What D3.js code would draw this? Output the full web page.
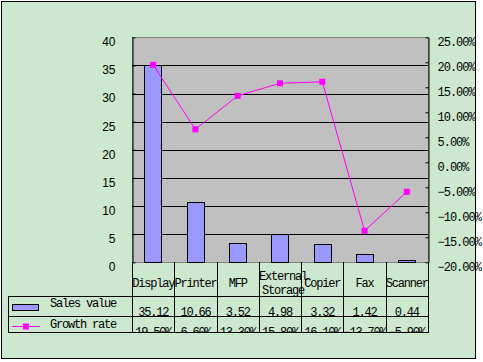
<!DOCTYPE html>
<html>
<head>
<meta charset="utf-8">
<script src="https://cdnjs.cloudflare.com/ajax/libs/d3/7.8.5/d3.min.js"></script>
<style>
    body { margin: 0; background: #fff; }
    svg { display: block; }
    .mono { font-family: "Liberation Mono", "DejaVu Sans Mono", monospace; font-size: 12px; }
</style>
</head>
<body>
<div id="chart"></div>
<script>
// chart data
let categories = ["Display", "Printer", "MFP", "External Storage", "Copier", "Fax", "Scanner"];
let salesValues = [35.12, 10.66, 3.52, 4.98, 3.32, 1.42, 0.44];
let growthRates = [0.195, 0.066, 0.133, 0.158, 0.161, -0.137, -0.059];
let salesTicks = [0, 5, 10, 15, 20, 25, 30, 35, 40];
let rateTicks = [-0.20, -0.15, -0.10, -0.05, 0, 0.05, 0.10, 0.15, 0.20, 0.25];
let seriesNames = ["Sales value", "Growth rate"];

let W = 483, H = 362;
let plot = {left: 132, right: 428, top: 37.3, bottom: 262.3};
let rowY = {cat: 262.3, sales: 296, growth: 315.7, end: 332.3};
let tableLeft = 8;

let svg = d3.select("#chart").append("svg")
    .attr("width", W)
    .attr("height", H);

// chart area
svg.append("rect")
    .attr("x", 1.5).attr("y", 1.5)
    .attr("width", 474).attr("height", 357)
    .attr("fill", "#CCE8CF")
    .attr("stroke", "#000");

let x = d3.scaleBand()
    .domain(categories)
    .range([plot.left, plot.right]);

let yLeft = d3.scaleLinear()
    .domain([0, 40])
    .range([plot.bottom, plot.top]);

let yRight = d3.scaleLinear()
    .domain([-0.20, 0.25])
    .range([plot.bottom, plot.top]);

// plot background
svg.append("rect")
    .attr("x", plot.left).attr("y", plot.top)
    .attr("width", plot.right - plot.left).attr("height", plot.bottom - plot.top)
    .attr("fill", "#C0C0C0")
    .attr("stroke", "#808080")
    .attr("shape-rendering", "crispEdges");

// gridlines
svg.append("g")
    .selectAll("line")
    .data(salesTicks.filter(d => d > 0 && d < 40))
    .join("line")
    .attr("x1", plot.left).attr("x2", plot.right)
    .attr("y1", d => Math.round(yLeft(d)) + 0.5)
    .attr("y2", d => Math.round(yLeft(d)) + 0.5)
    .attr("stroke", "#000");

// bars
let barW = x.bandwidth() * 0.41;
svg.append("g")
    .selectAll("rect")
    .data(salesValues)
    .join("rect")
    .attr("x", (d, i) => Math.round(x(categories[i]) + (x.bandwidth() - barW) / 2) + 0.5)
    .attr("y", d => Math.round(yLeft(d)) + 0.5)
    .attr("width", Math.round(barW))
    .attr("height", d => Math.max(0, Math.round(yLeft(0)) - Math.round(yLeft(d))))
    .attr("fill", "#9999FF")
    .attr("stroke", "#000");

// left axis
let leftAxis = svg.append("g")
    .attr("transform", `translate(${plot.left + 0.5},0)`)
    .call(d3.axisLeft(yLeft).tickValues(salesTicks).tickSizeInner(-3).tickSizeOuter(0).tickPadding(17));
leftAxis.select(".domain").attr("stroke", "#000");
leftAxis.selectAll(".tick line").attr("stroke", "#000");
leftAxis.selectAll("text")
    .attr("dy", "0.32em")
    .attr("y", 4.5)
    .style("font-family", "'Liberation Sans', Arial, sans-serif")
    .style("font-size", "12px")
    .attr("fill", "#000");

// right axis
let rightAxis = svg.append("g")
    .attr("transform", `translate(${plot.right + 0.5},0)`)
    .call(d3.axisRight(yRight).tickValues(rateTicks).tickFormat(d3.format(".2%")).tickSizeInner(-3).tickSizeOuter(0).tickPadding(9));
rightAxis.select(".domain").attr("stroke", "#000");
rightAxis.selectAll(".tick line").attr("stroke", "#000");
rightAxis.selectAll("text")
    .attr("class", "mono")
    .attr("y", 4.5)
    .style("letter-spacing", "-1px")
    .attr("fill", "#000");

// growth line
let line = d3.line()
    .x((d, i) => x(categories[i]) + x.bandwidth() / 2)
    .y(d => yRight(d));

svg.append("path")
    .datum(growthRates)
    .attr("d", line)
    .attr("fill", "none")
    .attr("stroke", "#FF00FF")
    .attr("stroke-width", 1);

svg.append("g")
    .selectAll("rect")
    .data(growthRates)
    .join("rect")
    .attr("x", (d, i) => x(categories[i]) + x.bandwidth() / 2 - 3)
    .attr("y", d => yRight(d) - 3)
    .attr("width", 6).attr("height", 6)
    .attr("fill", "#FF00FF");

// data table
let table = svg.append("g")
    .attr("stroke", "#000")
    .attr("shape-rendering", "crispEdges");

[rowY.sales, rowY.growth, rowY.end].forEach(y => {
    table.append("line")
        .attr("x1", tableLeft).attr("x2", plot.right)
        .attr("y1", Math.round(y) + 0.5).attr("y2", Math.round(y) + 0.5);
});

let bounds = categories.map(c => x(c)).concat([plot.right]);
table.selectAll(".vline")
    .data(bounds)
    .join("line")
    .attr("class", "vline")
    .attr("x1", d => Math.round(d) + 0.5).attr("x2", d => Math.round(d) + 0.5)
    .attr("y1", rowY.cat).attr("y2", Math.round(rowY.end) + 0.5);

table.append("line")
    .attr("x1", tableLeft + 0.5).attr("x2", tableLeft + 0.5)
    .attr("y1", Math.round(rowY.sales) + 0.5).attr("y2", Math.round(rowY.end) + 0.5);

// category labels
let catText = svg.append("g").attr("class", "mono")
    .selectAll("text")
    .data(categories)
    .join("text")
    .attr("x", d => x(d) + x.bandwidth() / 2)
    .attr("y", 287)
    .attr("text-anchor", "middle")
    .style("letter-spacing", "-1.2px")
    .attr("fill", "#000");

catText.each(function(d) {
    let words = d.split(" ");
    let el = d3.select(this);
    if (words.length > 1) {
        words.forEach((w, j) => {
            el.append("tspan")
                .attr("x", x(d) + x.bandwidth() / 2 + 3)
                .attr("y", 279.5 + j * 14.5)
                .text(w);
        });
    } else {
        el.text(d);
    }
});

// clip for the table values (bottom row gets cut off)
svg.append("clipPath")
    .attr("id", "tableClip")
    .append("rect")
    .attr("x", 0).attr("y", 0)
    .attr("width", W).attr("height", Math.round(rowY.end) + 1);

let values = svg.append("g").attr("class", "mono").attr("clip-path", "url(#tableClip)");

values.selectAll(".sales")
    .data(salesValues)
    .join("text")
    .attr("class", "sales")
    .attr("x", (d, i) => x(categories[i]) + x.bandwidth() / 2)
    .attr("y", 315.5)
    .attr("text-anchor", "middle")
    .style("letter-spacing", "-1.2px")
    .text(d => d3.format(".2f")(d));

values.selectAll(".growth")
    .data(growthRates)
    .join("text")
    .attr("class", "growth")
    .attr("x", (d, i) => x(categories[i]) + x.bandwidth() / 2)
    .attr("y", 335.5)
    .attr("text-anchor", "middle")
    .style("letter-spacing", "-1.2px")
    .text(d => d3.format(".2%")(d));

// legend keys
let legend = svg.append("g");
legend.append("rect")
    .attr("x", 12.5).attr("y", 304.5)
    .attr("width", 26).attr("height", 6)
    .attr("fill", "#9999FF")
    .attr("stroke", "#000");
legend.append("line")
    .attr("x1", 12).attr("x2", 40)
    .attr("y1", 326.5).attr("y2", 326.5)
    .attr("stroke", "#FF00FF");
legend.append("rect")
    .attr("x", 23).attr("y", 323.5)
    .attr("width", 6).attr("height", 6)
    .attr("fill", "#FF00FF");

legend.selectAll("text")
    .data(seriesNames)
    .join("text")
    .attr("class", "mono")
    .attr("x", 50)
    .attr("y", (d, i) => i == 0 ? 306.5 : 327.5)
    .style("letter-spacing", "-1.2px")
    .text(d => d);
</script>
</body>
</html>
